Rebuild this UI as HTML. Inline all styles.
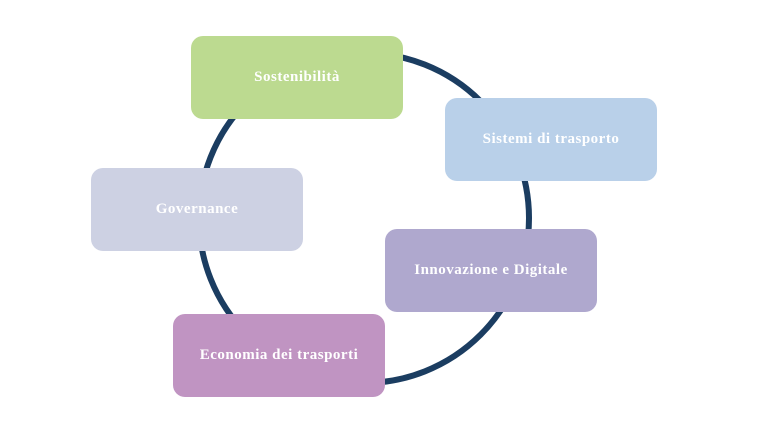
<!DOCTYPE html>
<html><head><meta charset="utf-8"><style>
html,body{margin:0;padding:0;background:#fff;width:770px;height:433px;overflow:hidden;position:relative}
.b{position:absolute;width:212px;height:83px;border-radius:12px;display:flex;align-items:center;justify-content:center;color:#fff;font-family:"Liberation Serif",serif;font-weight:bold;font-size:15px;letter-spacing:0.5px}
</style></head><body>
<svg width="770" height="433" style="position:absolute;left:0;top:0">
<circle cx="364" cy="218" r="165" fill="none" stroke="#1b3d61" stroke-width="6"/>
</svg>
<div class="b" style="left:191px;top:36px;background:#bcda90">Sostenibilità</div>
<div class="b" style="left:445px;top:98px;background:#b9d0e9">Sistemi di trasporto</div>
<div class="b" style="left:91px;top:168px;background:#cdd1e3">Governance</div>
<div class="b" style="left:385px;top:229px;background:#afa8ce">Innovazione e Digitale</div>
<div class="b" style="left:173px;top:314px;background:#c094c2">Economia dei trasporti</div>
</body></html>
